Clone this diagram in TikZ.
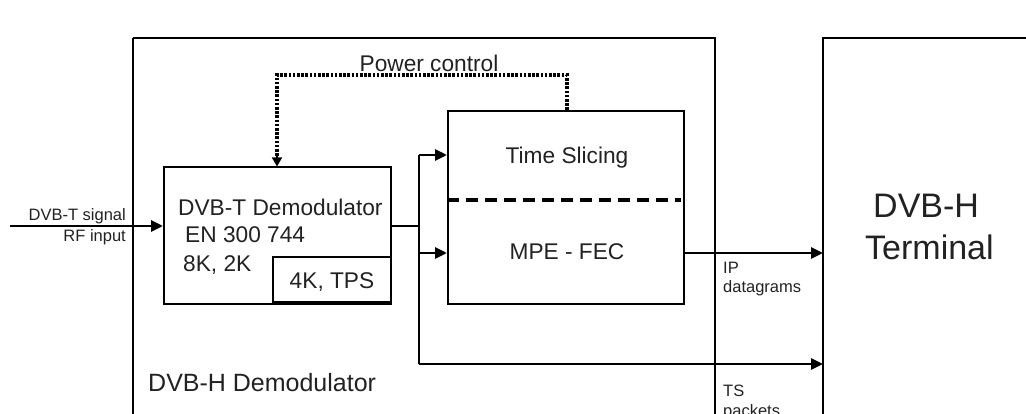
\documentclass[tikz,border=0pt]{standalone}
\usepackage{fontspec}
\setmainfont{Liberation Sans}
\usetikzlibrary{arrows.meta}
\definecolor{txt}{HTML}{222222}
\tikzset{
  box/.style={draw=black, line width=1.6pt},
  conn/.style={draw=black, line width=2.9pt},
  arr/.style={conn, -{Triangle[length=12pt,width=11pt]}},
  pcline/.style={draw=black, line width=3.4pt, dash pattern=on 2.6pt off 1.6pt},
  sepline/.style={draw=black, line width=3.4pt, dash pattern=on 12pt off 7pt},
  lbl/.style={inner sep=0pt, text=txt, font=\fontsize{22.7}{27}\selectfont},
  small/.style={inner sep=0pt, text=txt, font=\fontsize{16.5}{20}\selectfont},
  big/.style={inner sep=0pt, text=txt, font=\fontsize{34}{40}\selectfont},
  mid/.style={inner sep=0pt, text=txt, font=\fontsize{25}{30}\selectfont},
}
\begin{document}
\begin{tikzpicture}[x=1pt,y=-1pt]
\useasboundingbox (0,0) rectangle (1026,414);
\clip (0,0) rectangle (1026,414);
\fill[white] (0,0) rectangle (1026,414);
% outer boxes
\draw[box, line width=1.5pt] (133,38) -- (133,440) (133,38) -- (715,38) -- (715,440);
\draw[box, line width=1.5pt] (823,440) -- (823,38) -- (1040,38);
\coordinate (term) at (823,200);
% inner boxes
\node[box, minimum width=227pt, minimum height=137pt, anchor=north west, inner sep=0pt] (demod) at (163,166) {};
\node[box, minimum width=118pt, minimum height=45pt, anchor=south east, inner sep=0pt] (tps) at (391.5,303) {};
\node[box, minimum width=236pt, minimum height=193pt, anchor=north west, inner sep=0pt] (tsbox) at (447,110) {};
\draw[sepline] (447,200) -- (681,200);
% texts
\node[lbl, anchor=base west] (t1) at (178,216) {DVB-T Demodulator};
\node[lbl, anchor=base west] (t2) at (185,243) {EN 300 744};
\node[lbl, anchor=base west] (t3) at (183,272) {8K, 2K};
\node[lbl, anchor=base] (t4) at (332,288) {4K, TPS};
\node[lbl, anchor=base] (t5) at (567,164) {Time Slicing};
\node[lbl, anchor=base] (t6) at (567,260) {MPE - FEC};
\node[lbl, anchor=base] (pc) at (429,72) {Power control};
\node[small, anchor=base east] (s1) at (126,221) {DVB-T signal};
\node[small, anchor=base east] (s2) at (126,242) {RF input};
\node[small, anchor=base west] (s3) at (723,273) {IP};
\node[small, anchor=base west] (s4) at (723,293) {datagrams};
\node[small, anchor=base west] (s5) at (723,396) {TS};
\node[small, anchor=base west] (s6) at (723,416) {packets};
\node[mid, anchor=base west] (dh) at (148,391) {DVB-H Demodulator};
\node[big, anchor=base west] (b1) at (873,218) {DVB-H};
\node[big, anchor=base west] (b2) at (865,260) {Terminal};
% connectors
\coordinate (in) at (10,226);
\coordinate (bus) at (419,226);
\coordinate (bustop) at (419,155);
\coordinate (busmid) at (419,253);
\coordinate (busbot) at (419,364);
\draw[arr] (in) -- (in -| demod.west);
\draw[conn] (demod.east |- bus) -- (bus);
\draw[conn] (bustop) -- (busbot);
\draw[arr] (bustop) -- (bustop -| tsbox.west);
\draw[arr] (busmid) -- (busmid -| tsbox.west);
\draw[arr] (busbot) -- (busbot -| term);
\draw[arr] (tsbox.east |- busmid) -- (busmid -| term);
\draw[pcline] (567,110) -- (567,75) -- (277,75) -- (277,157);
\draw[-{Triangle[length=9pt,width=10pt]}, line width=1.5pt] (277,156) -- (277,166.5);
\end{tikzpicture}
\end{document}
